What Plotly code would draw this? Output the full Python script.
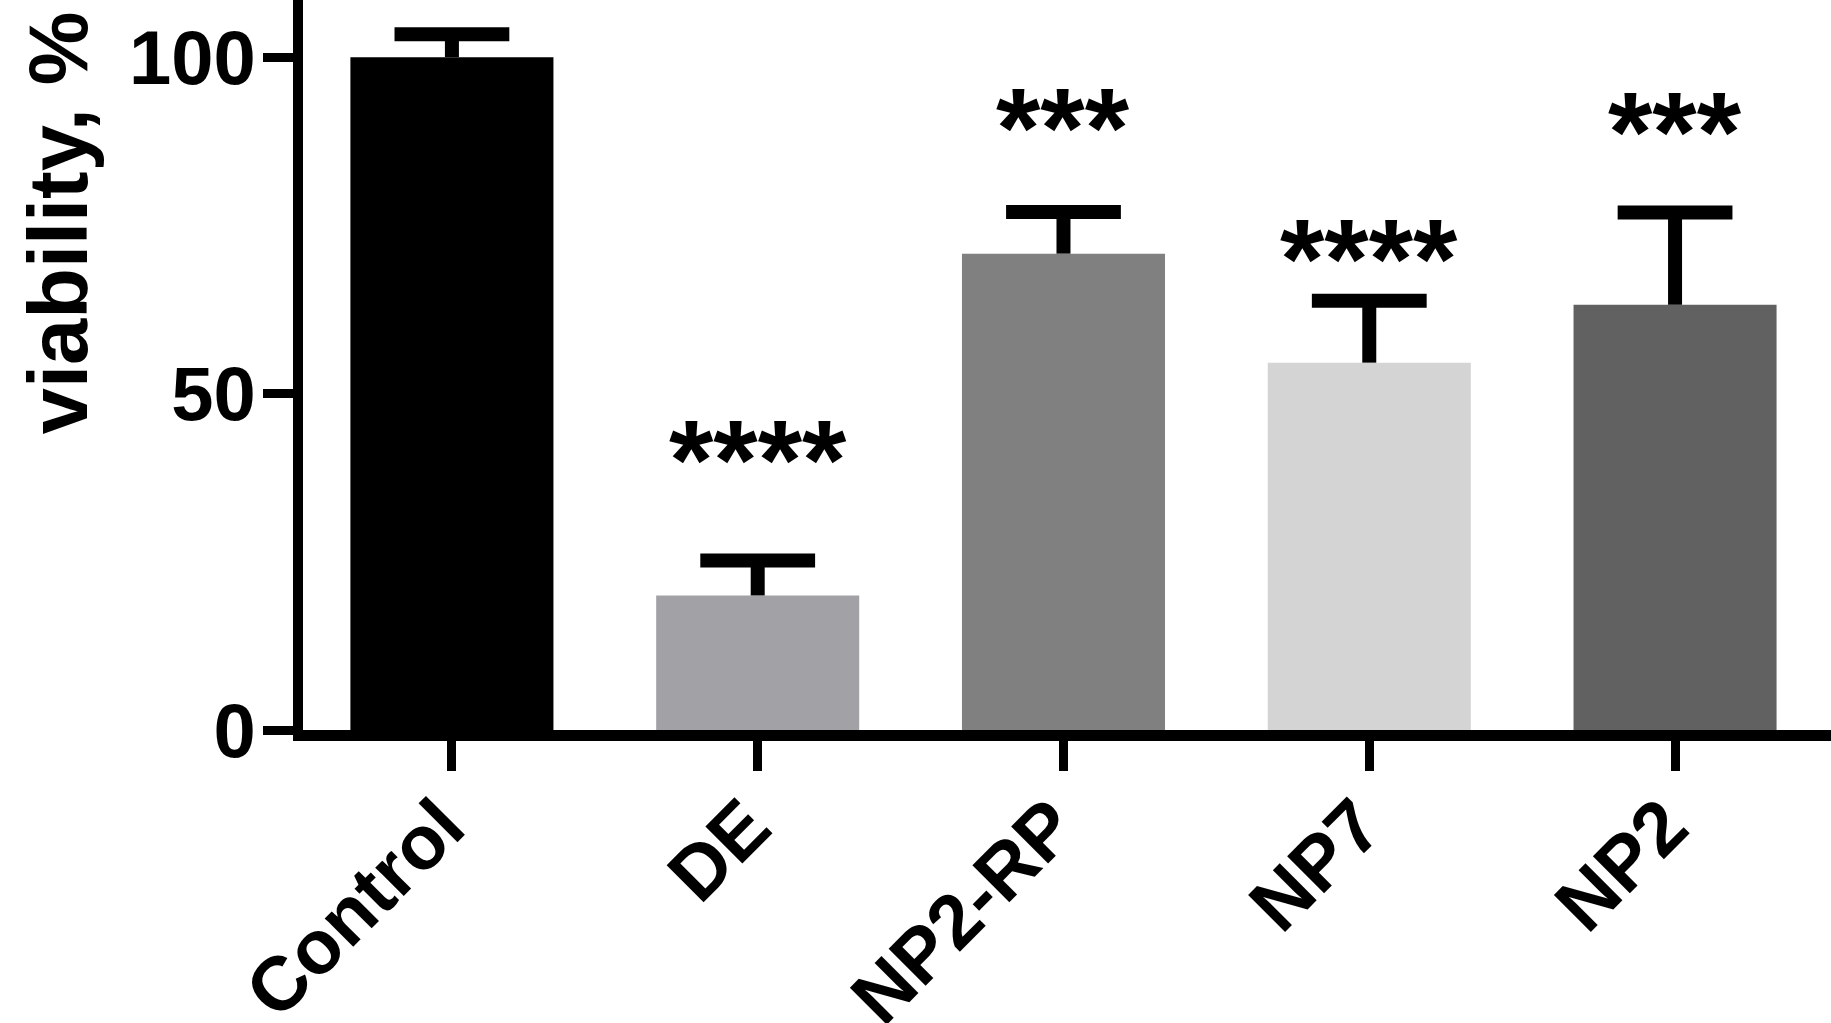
import plotly.graph_objects as go

categories = ["Control", "DE", "NP2-RP", "NP7", "NP2"]
viability = [100.0, 20.0, 70.8, 54.6, 63.2]
error_upper = [3.4, 5.2, 6.2, 9.2, 13.7]
bar_colors = ["#000000", "#a2a2a6", "#808080", "#d4d4d4", "#616161"]
significance = ["", "****", "***", "****", "***"]
significance_y = [None, 43.0, 92.4, 72.9, 91.8]
y_ticks = [0, 50, 100]

FONT = "Liberation Sans, Arial, sans-serif"
xpos = list(range(len(categories)))

fig = go.Figure()
fig.add_trace(go.Bar(
    x=xpos,
    y=viability,
    width=0.664,
    marker=dict(color=bar_colors, line=dict(width=0)),
    error_y=dict(
        type="data",
        array=error_upper,
        arrayminus=[0] * len(categories),
        symmetric=False,
        color="#000000",
        thickness=14,
        width=0,
    ),
    showlegend=False,
))
# error bar caps (top only)
fig.add_trace(go.Scatter(
    x=xpos,
    y=[v + e for v, e in zip(viability, error_upper)],
    mode="markers",
    marker=dict(symbol="line-ew", size=82, color="#000000",
                line=dict(color="#000000", width=14)),
    showlegend=False, hoverinfo="skip",
))

annotations = []
for i, (lab, sy) in enumerate(zip(significance, significance_y)):
    if lab:
        annotations.append(dict(
            x=i, y=sy, xref="x", yref="y", text=lab, showarrow=False,
            xanchor="center", yanchor="middle", yshift=-19,
            font=dict(family=FONT, size=114, color="#000000", weight="bold"),
        ))

annotations.append(dict(
    x=-0.160, y=0.695, xref="paper", yref="paper", text="viability, %",
    showarrow=False, textangle=-90, xanchor="center", yanchor="middle",
    font=dict(family=FONT, size=83, color="#000000", weight="bold"),
))

fig.update_layout(
    width=1831, height=1023,
    margin=dict(l=303, r=0, t=0, b=293, autoexpand=False),
    paper_bgcolor="white", plot_bgcolor="white",
    annotations=annotations,
)

fig.update_xaxes(
    range=[-0.487, 4.51],
    tickmode="array",
    tickvals=xpos,
    ticktext=categories,
    tickangle=-45,
    automargin=False,
    ticklabelstandoff=-20,
    ticklabelshift=-10,
    showline=True, linecolor="#000000", linewidth=11,
    ticks="outside", ticklen=30, tickwidth=9, tickcolor="#000000",
    showgrid=False, zeroline=False,
    tickfont=dict(family=FONT, size=76, color="#000000", weight="bold"),
)
fig.update_yaxes(
    range=[0, 108.5],
    tickmode="array",
    tickvals=y_ticks,
    ticktext=[str(t) for t in y_ticks],
    automargin=False,
    ticklabelstandoff=-8,
    showline=True, linecolor="#000000", linewidth=10,
    ticks="outside", ticklen=30, tickwidth=9, tickcolor="#000000",
    showgrid=False, zeroline=False,
    tickfont=dict(family=FONT, size=76, color="#000000", weight="bold"),
)

fig.write_html(
    "out.html",
    config={"displayModeBar": False},
    post_script="document.body.style.margin='0px';document.body.style.overflow='hidden';",
)
